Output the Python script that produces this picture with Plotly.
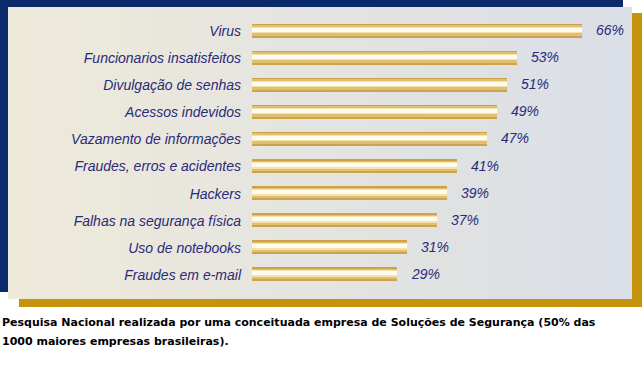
import plotly.graph_objects as go

categories = ["Virus", "Funcionarios insatisfeitos", "Divulgação de senhas", "Acessos indevidos",
              "Vazamento de informações", "Fraudes, erros e acidentes", "Hackers",
              "Falhas na segurança física", "Uso de notebooks", "Fraudes em e-mail"]
values = [66, 53, 51, 49, 47, 41, 39, 37, 31, 29]
value_labels = [f"{v}%" for v in values]
caption_lines = ["Pesquisa Nacional realizada por uma conceituada empresa de Soluções de Segurança (50% das",
                 "1000 maiores empresas brasileiras)."]

W, H = 642, 373
ROW = 27.1  # px per category

def px(x):
    return x / W

def py(y):
    return 1 - y / H

fig = go.Figure()

# layered bars to imitate the golden tube gradient (top px, height px, colour)
BAR_PX = 14.0
layers = [
    (0, 14, "#CCA24A"),
    (1.5, 10.5, "#E0C070"),
    (3, 6.5, "#F2E2B0"),
    (4, 4, "#FFFCEE"),
]
for top, h, col in layers:
    off = -BAR_PX / 2 / ROW + top / ROW
    fig.add_trace(go.Bar(
        x=values, y=categories, orientation="h",
        width=h / ROW, offset=off,
        marker=dict(color=col, line=dict(width=0)),
        hoverinfo="skip", showlegend=False,
    ))

for c, v, t in zip(categories, values, value_labels):
    fig.add_annotation(x=v, y=c, xref="x", yref="y", text=t, showarrow=False,
                       xanchor="left", yanchor="middle", xshift=12, yshift=1,
                       font=dict(family="Liberation Sans", size=14, color="#2A2A7A", style="italic"))

shapes = []
# navy frame (behind, top-left)
shapes.append(dict(type="rect", xref="paper", yref="paper", x0=px(0), x1=px(623), y0=py(292), y1=py(0),
                   fillcolor="#0B2A6B", line=dict(width=0), layer="below"))
# gold frame (behind, bottom-right)
shapes.append(dict(type="rect", xref="paper", yref="paper", x0=px(19), x1=px(642), y0=py(307), y1=py(13),
                   fillcolor="#C6930E", line=dict(width=0), layer="below"))
# panel with horizontal gradient
c0 = (0xEE, 0xEA, 0xDA)
c1 = (0xDA, 0xDE, 0xE6)
x_start, x_end = 8, 632
n = 48
for i in range(n):
    t = i / (n - 1)
    col = "#%02X%02X%02X" % tuple(round(a + (b - a) * t) for a, b in zip(c0, c1))
    xa = x_start + (x_end - x_start) * i / n
    xb = x_start + (x_end - x_start) * (i + 1) / n + 0.6
    shapes.append(dict(type="rect", xref="paper", yref="paper", x0=px(xa), x1=px(min(xb, x_end)),
                       y0=py(299), y1=py(7), fillcolor=col, line=dict(width=0), layer="below"))

caption_ann = [
    dict(xref="paper", yref="paper", x=0, y=py(yc), xanchor="left", yanchor="middle",
         text=line, showarrow=False, align="left",
         font=dict(family="DejaVu Sans", size=11, color="black", weight="bold"))
    for line, yc in zip(caption_lines, [322, 341])
]

fig.update_layout(
    width=W, height=H,
    margin=dict(l=0, r=0, t=0, b=0),
    paper_bgcolor="white", plot_bgcolor="rgba(0,0,0,0)",
    barmode="overlay", bargap=0,
    shapes=shapes,
    xaxis=dict(domain=[252 / W, 1], range=[0, (W - 252) / 5], visible=False, fixedrange=True),
    yaxis=dict(type="category", categoryorder="array", categoryarray=categories,
               autorange="reversed", fixedrange=True,
               domain=[py(31 + 9.5 * ROW), py(31 - ROW / 2)],
               showgrid=False, zeroline=False, showline=False, ticks="",
               ticklabelstandoff=10,
               tickfont=dict(family="Liberation Sans", size=14, color="#2A2A7A", style="italic")),
    annotations=list(fig.layout.annotations) + caption_ann,
)

fig.write_html("out.html", config={"displayModeBar": False},
               post_script="document.body.style.margin='0';")
